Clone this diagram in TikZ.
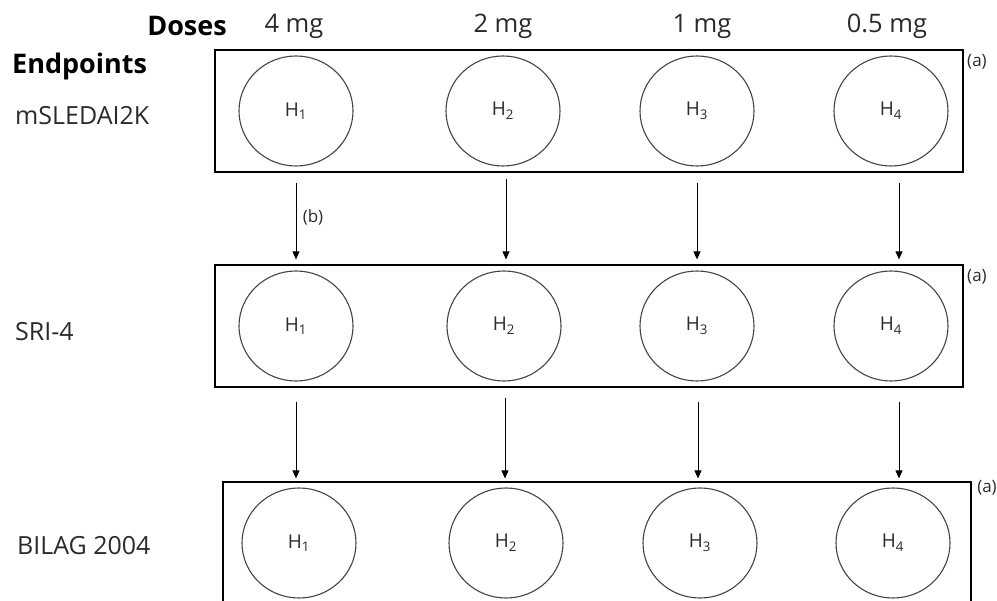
\documentclass[tikz,border=0pt]{standalone}
\usepackage{fontspec}
\setmainfont{Open Sans}
\usetikzlibrary{shapes.geometric,arrows.meta}
\definecolor{txt}{HTML}{2A2A2A}
\definecolor{circ}{HTML}{444444}
\tikzset{
  hyp/.style={ellipse, draw=circ, line width=1.1pt, minimum width=114pt, minimum height=110pt, inner sep=0pt, text=txt, font=\fontsize{19}{22}\selectfont},
  rowbox/.style={draw=black, line width=1.2pt, minimum width=748pt, minimum height=122pt, inner sep=0pt},
  arr/.style={-{Triangle[length=8pt,width=7pt]}, line width=0.9pt, black},
  lbl/.style={text=txt, font=\fontsize{25}{29}\selectfont, inner sep=0pt},
  dose/.style={text=txt, font=\fontsize{25.5}{29}\selectfont, inner sep=0pt},
  head/.style={text=black, font=\bfseries\fontsize{27}{31}\selectfont, inner sep=0pt},
  note/.style={text=txt, font=\fontsize{17}{20}\selectfont, inner sep=0pt}
}
\begin{document}
\begin{tikzpicture}[x=1pt,y=-1pt]
\useasboundingbox (0,0) rectangle (997,601);
\begin{scope}
\clip (0,0) rectangle (997,601);
% boxes
\node[rowbox] (box1) at (589,111) {};
\node[rowbox] (box2) at (589,326) {};
\node[rowbox] (box3) at (597,543) {};
% circles
\node[hyp] (c11) at (296,111) {H\textsubscript{1}};
\node[hyp] (c12) at (503,111) {H\textsubscript{2}};
\node[hyp] (c13) at (697,111) {H\textsubscript{3}};
\node[hyp] (c14) at (891,111) {H\textsubscript{4}};
\node[hyp] (c21) at (296,326) {H\textsubscript{1}};
\node[hyp] (c22) at (504,326) {H\textsubscript{2}};
\node[hyp] (c23) at (697,326) {H\textsubscript{3}};
\node[hyp] (c24) at (891,326) {H\textsubscript{4}};
\node[hyp] (c31) at (299,543) {H\textsubscript{1}};
\node[hyp] (c32) at (506,543) {H\textsubscript{2}};
\node[hyp] (c33) at (700,543) {H\textsubscript{3}};
\node[hyp] (c34) at (893,543) {H\textsubscript{4}};
\end{scope}
% arrows
\draw[arr, shorten <=10pt, shorten >=5pt] (box1.south -| c11) -- (box2.north -| c11);
\draw[arr, shorten <=6pt, shorten >=5pt] ([xshift=3pt]box1.south -| c12) -- ([xshift=3pt]box2.north -| c12);
\draw[arr, shorten <=10pt, shorten >=5pt] (box1.south -| c13) -- (box2.north -| c13);
\draw[arr, shorten <=10pt, shorten >=5pt] ([xshift=8pt]box1.south -| c14) -- ([xshift=8pt]box2.north -| c14);
\draw[arr, shorten <=14pt, shorten >=3pt] (box2.south -| c11) -- (box3.north -| c11);
\draw[arr, shorten <=10pt, shorten >=3pt] ([xshift=2pt]box2.south -| c12) -- ([xshift=2pt]box3.north -| c12);
\draw[arr, shorten <=14pt, shorten >=3pt] ([xshift=1pt]box2.south -| c13) -- ([xshift=1pt]box3.north -| c13);
\draw[arr, shorten <=14pt, shorten >=3pt] ([xshift=8pt]box2.south -| c14) -- ([xshift=8pt]box3.north -| c14);
% notes
\node[note] (a1) at (977,62) {(a)};
\node[note] (a2) at (977,277) {(a)};
\node[note] (a3) at (987,488) {(a)};
\node[note] (b1) at (313,217) {(b)};
% headers
\node[head, anchor=east] (doses) at (227,26) {Doses};
\node[dose] (d1) at (294,26) {4 mg};
\node[dose] (d2) at (503,26) {2 mg};
\node[dose] (d3) at (702,26) {1 mg};
\node[dose] (d4) at (887,26) {0.5 mg};
\node[head, anchor=west] (endp) at (12,66) {Endpoints};
\node[lbl, anchor=west] (e1) at (15,116) {mSLEDAI2K};
\node[lbl, anchor=west] (e2) at (15,332) {SRI-4};
\node[lbl, anchor=west] (e3) at (17,546) {BILAG 2004};
\end{tikzpicture}
\end{document}
